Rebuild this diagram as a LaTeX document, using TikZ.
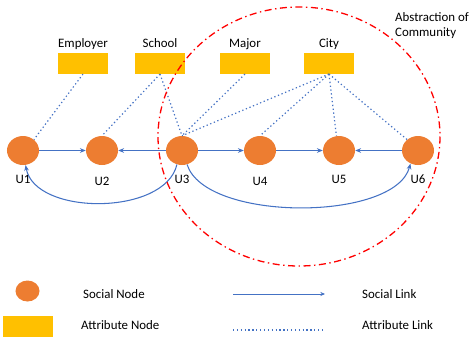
\documentclass[tikz,border=0pt]{standalone}
\usepackage{fontspec}
\setmainfont{Carlito}
\usepackage{xcolor}
\usetikzlibrary{arrows.meta,shapes.geometric}

\definecolor{usrorange}{HTML}{ED7D31}
\definecolor{attryellow}{HTML}{FFC000}
\definecolor{linkblue}{HTML}{4472C4}

\begin{document}
\begin{tikzpicture}[x=0.03cm, y=-0.03cm,
    font=\fontsize{11}{13.5}\selectfont,
    social/.style={ellipse, fill=usrorange, inner sep=0pt, minimum width=0.96cm, minimum height=0.87cm},
    attr/.style={rectangle, fill=attryellow, inner sep=0pt, minimum width=1.5cm, minimum height=0.62cm},
    slink/.style={draw=linkblue, line width=0.9pt, -{Stealth[length=5pt, width=4pt]}},
    alink/.style={draw=linkblue, line width=1pt, dash pattern=on 1.1pt off 2.2pt},
    community/.style={draw=red, line width=1.1pt, dash pattern=on 6pt off 3pt on 1.2pt off 3pt},
    every label/.style={text depth=1pt}]
    \useasboundingbox (0,0) rectangle (471,337);

    % Attribute nodes
    \node[attr, label=above:Employer] (employer) at (83,63.5) {};
    \node[attr, label=above:School] (school) at (160,63.5) {};
    \node[attr, label=above:Major] (major) at (245,63.5) {};
    \node[attr, label=above:City] (city) at (329,63.5) {};

    % Social nodes
    \node[social, label={[label distance=4.7pt]below:U1}] (u1) at (23,150.5) {};
    \node[social, label={[label distance=6.7pt]below:U2}] (u2) at (102,150.5) {};
    \node[social, label={[label distance=4.7pt]below:U3}] (u3) at (182,150.5) {};
    \node[social, label={[label distance=6.7pt]below:U4}] (u4) at (260,150.5) {};
    \node[social, label={[label distance=4.7pt]below:U5}] (u5) at (339,150.5) {};
    \node[social, label={[label distance=4.7pt]below:U6}] (u6) at (418,150.5) {};

    % Attribute links
    \draw[alink] (employer.south) -- (u1.45);
    \draw[alink] (school.south) -- (u2.north);
    \draw[alink] (school.south) -- (u3.north);
    \draw[alink] (major.south) -- (u3.north);
    \draw[alink] (city.south) -- (u3.north);
    \draw[alink] (city.south) -- (u4.north);
    \draw[alink] (city.south) -- (u5.100);
    \draw[alink] (city.south) -- (u6.135);

    % Social links
    \draw[slink] (u1) -- (u2);
    \draw[slink] (u3) -- (u2);
    \draw[slink] (u3) -- (u4);
    \draw[slink] (u4) -- (u5);
    \draw[slink] (u6) -- (u5);
    \draw[slink] (u3.250) .. controls (165,216) and (35,216) .. (u1.280);
    \draw[slink] (u3.290) .. controls (205,222) and (395,222) .. (u6.240);

    % Community boundary
    \draw[community] (299,136.5) ellipse [x radius=141, y radius=129.5];
    \node[anchor=north west, align=left, inner sep=0pt] (abstr) at (395,12) {Abstraction of\\Community};

    % Legend
    \node[social, minimum width=0.72cm, minimum height=0.63cm] (legsocial) at (27.5,291) {};
    \node[attr] (legattr) at (28,326.5) {};
    \node[anchor=base west, inner sep=0pt] (legsocialtxt) at (83,298.5) {Social Node};
    \node[anchor=base west, inner sep=0pt] (legattrtxt) at (81,329) {Attribute Node};

    \coordinate (slstart) at (233,294);
    \coordinate (slend) at (325,294);
    \coordinate (alstart) at (233,330);
    \coordinate (alend) at (325,330);
    \draw[draw=linkblue, line width=0.8pt, -{Stealth[length=4pt, width=3.5pt]}] (slstart) -- (slend);
    \draw[alink] (alstart) -- (alend);
    \node[anchor=base west, inner sep=0pt] (legslinktxt) at (362,298.5) {Social Link};
    \node[anchor=base west, inner sep=0pt] (legalinktxt) at (362,329.5) {Attribute Link};
  \end{tikzpicture}
\end{document}
